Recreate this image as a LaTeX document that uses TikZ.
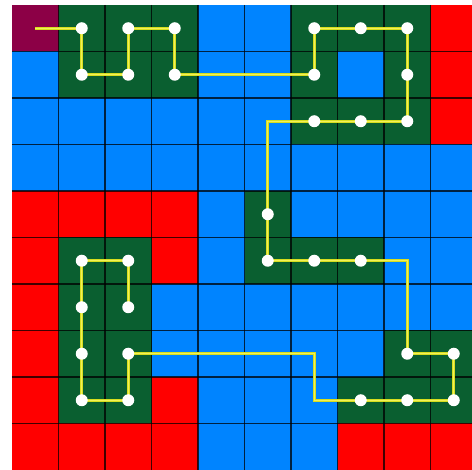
\documentclass[tikz,border=0pt]{standalone}
\definecolor{colM}{RGB}{140,0,70}
\definecolor{colG}{RGB}{10,95,48}
\definecolor{colB}{RGB}{0,132,255}
\definecolor{colR}{RGB}{255,0,0}
\definecolor{trailout}{RGB}{215,222,30}
\definecolor{trailin}{RGB}{240,240,90}
\tikzset{
  gridline/.style={draw=black,opacity=0.75,line width=1.4pt},
  trailouter/.style={draw=trailout,line width=3.4pt},
  trailinner/.style={draw=trailin,line width=1.2pt},
  dot/.style={circle,fill=white,inner sep=0pt,minimum size=12pt}
}
\begin{document}
\begin{tikzpicture}[x=46.5pt,y=-46.5pt]
\useasboundingbox (-12pt,5pt) rectangle (460pt,-465pt);
\clip (-12pt,5pt) rectangle (460pt,-465pt);
\fill[white] (-12pt,5pt) rectangle (460pt,-465pt);
% cells
\foreach \rowlist [count=\r from 0] in {
  {M,G,G,G,B,B,G,G,G,R},
  {B,G,G,G,B,B,G,B,G,R},
  {B,B,B,B,B,B,G,G,G,R},
  {B,B,B,B,B,B,B,B,B,B},
  {R,R,R,R,B,G,B,B,B,B},
  {R,G,G,R,B,G,G,G,B,B},
  {R,G,G,B,B,B,B,B,B,B},
  {R,G,G,B,B,B,B,B,G,G},
  {R,G,G,R,B,B,B,G,G,G},
  {R,R,R,R,B,B,B,R,R,R}}{
  \foreach \c [count=\col from 0] in \rowlist {
    \fill[fill=col\c] (\col,\r) rectangle ++(1,1);
  }
}
% grid lines
\foreach \i in {1,...,9} {
  \draw[gridline] (\i,0) -- (\i,10);
  \draw[gridline] (0,\i) -- (10,\i);
}
% path points
\coordinate (s) at (0.5,0.5);
\coordinate (p1) at (1.5,0.5);
\coordinate (p2) at (1.5,1.5);
\coordinate (p3) at (2.5,1.5);
\coordinate (p4) at (2.5,0.5);
\coordinate (p5) at (3.5,0.5);
\coordinate (p6) at (3.5,1.5);
\coordinate (p7) at (6.5,1.5);
\coordinate (p8) at (6.5,0.5);
\coordinate (p9) at (7.5,0.5);
\coordinate (p10) at (8.5,0.5);
\coordinate (p11) at (8.5,1.5);
\coordinate (p12) at (8.5,2.5);
\coordinate (p13) at (7.5,2.5);
\coordinate (p14) at (6.5,2.5);
\coordinate (k1) at (5.5,2.5);
\coordinate (p15) at (5.5,4.5);
\coordinate (p16) at (5.5,5.5);
\coordinate (p17) at (6.5,5.5);
\coordinate (p18) at (7.5,5.5);
\coordinate (k2) at (8.5,5.5);
\coordinate (p19) at (8.5,7.5);
\coordinate (p20) at (9.5,7.5);
\coordinate (p21) at (9.5,8.5);
\coordinate (p22) at (8.5,8.5);
\coordinate (p23) at (7.5,8.5);
\coordinate (k3) at (6.5,8.5);
\coordinate (k4) at (6.5,7.5);
\coordinate (p24) at (2.5,7.5);
\coordinate (p25) at (2.5,8.5);
\coordinate (p26) at (1.5,8.5);
\coordinate (p27) at (1.5,7.5);
\coordinate (p28) at (1.5,6.5);
\coordinate (p29) at (1.5,5.5);
\coordinate (p30) at (2.5,5.5);
\coordinate (p31) at (2.5,6.5);
% trail
\foreach \st in {trailouter,trailinner} {
  \draw[\st,line join=miter] (s) -- (p1) -- (p2) -- (p3) -- (p4) -- (p5) -- (p6) -- (p7) -- (p8) -- (p9) -- (p10) -- (p11) -- (p12) -- (p13) -- (p14) -- (k1) -- (p15) -- (p16) -- (p17) -- (p18) -- (k2) -- (p19) -- (p20) -- (p21) -- (p22) -- (p23) -- (k3) -- (k4) -- (p24) -- (p25) -- (p26) -- (p27) -- (p28) -- (p29) -- (p30) -- (p31);
}
% dots
\foreach \n in {1,...,31} {
  \node[dot] (d\n) at (p\n) {};
}
\end{tikzpicture}
\end{document}
